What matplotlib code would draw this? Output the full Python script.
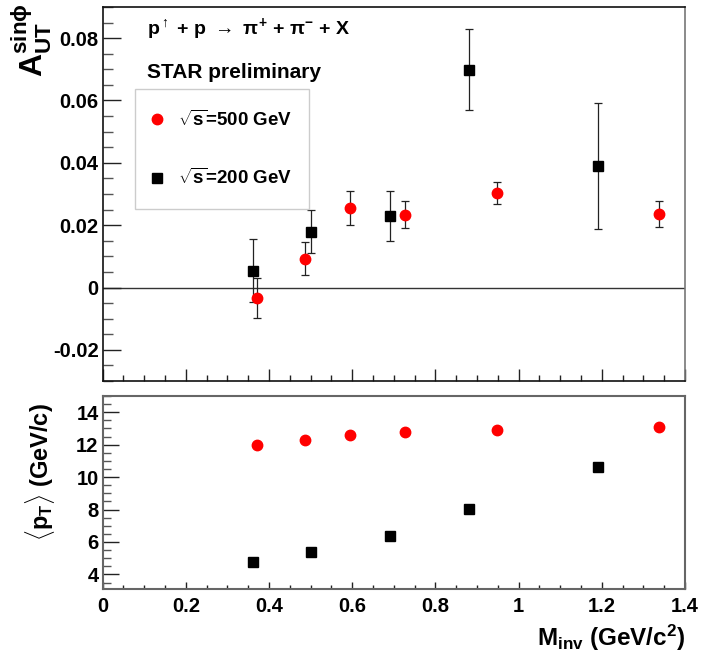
import matplotlib
matplotlib.use("Agg")
import matplotlib.pyplot as plt
from matplotlib.ticker import MultipleLocator, FuncFormatter
from matplotlib.lines import Line2D

plt.rcParams['font.family'] = ['Liberation Sans', 'DejaVu Sans']
plt.rcParams['font.weight'] = 'bold'
plt.rcParams['mathtext.fontset'] = 'custom'
plt.rcParams['mathtext.rm'] = 'Liberation Sans:bold'
plt.rcParams['mathtext.it'] = 'Liberation Sans:bold'
plt.rcParams['mathtext.bf'] = 'Liberation Sans:bold'
plt.rcParams['mathtext.sf'] = 'Liberation Sans:bold'

# ---- data ----
m500 = [0.372, 0.486, 0.595, 0.728, 0.947, 1.338]
a500 = [-0.0034, 0.0093, 0.0255, 0.0234, 0.0304, 0.0237]
e500 = [0.0065, 0.0054, 0.0054, 0.0044, 0.0036, 0.0042]
pt500 = [12.0, 12.28, 12.61, 12.77, 12.92, 13.10]

m200 = [0.361, 0.501, 0.691, 0.880, 1.190]
a200 = [0.0054, 0.0179, 0.0230, 0.0699, 0.0390]
e200 = [0.0102, 0.0069, 0.0081, 0.0130, 0.0202]
pt200 = [4.76, 5.39, 6.36, 8.02, 10.62]

label500 = r'$\sqrt{s}$=500 GeV'
label200 = r'$\sqrt{s}$=200 GeV'

RED = '#ff0000'
FS = 14.5

fig = plt.figure(figsize=(7.01, 6.60), dpi=100)
W, H = 701, 660
ax1 = fig.add_axes([102.7 / W, 1 - 381 / H, (685 - 102.7) / W, (381 - 7) / H])
ax2 = fig.add_axes([102.7 / W, 1 - 589 / H, (685 - 102.7) / W, (589 - 396) / H])

# ---- top panel ----
ax1.axhline(0, color='#333333', lw=1.0, zorder=1)
ax1.errorbar(m500, a500, yerr=e500, fmt='o', color=RED, ms=7.5, mec=RED,
             ecolor='#222222', elinewidth=0.9, capsize=3, capthick=0.9, zorder=3)
ax1.errorbar(m200, a200, yerr=e200, fmt='s', color='black', ms=7.5,
             ecolor='#222222', elinewidth=0.9, capsize=3, capthick=0.9, zorder=3)
ax1.set_xlim(0, 1.4)
ax1.set_ylim(-0.03, 0.09)
ax1.yaxis.set_major_locator(MultipleLocator(0.02))
ax1.yaxis.set_minor_locator(MultipleLocator(0.005))
ax1.xaxis.set_major_locator(MultipleLocator(0.2))
ax1.xaxis.set_minor_locator(MultipleLocator(0.05))
ax1.yaxis.set_major_formatter(FuncFormatter(lambda v, p: '0' if abs(v) < 1e-9 else f'{v:.2f}'))
ax1.tick_params(axis='x', which='both', direction='in', labelbottom=False, top=False)
ax1.tick_params(axis='x', which='major', length=8.6, width=1, color='#222222')
ax1.tick_params(axis='x', which='minor', length=4.3, width=1, color='#222222')
ax1.tick_params(axis='y', which='major', direction='in', length=13, width=1, color='#222222',
                labelsize=FS, pad=3, right=False)
ax1.tick_params(axis='y', which='minor', direction='in', length=7, width=1, color='#555555', right=False)
for s in ['left', 'bottom', 'top']:
    ax1.spines[s].set_color('#111111')
ax1.spines['right'].set_color('#777777')
for s in ax1.spines.values():
    s.set_linewidth(1.2)

ax1.text(0.076, 0.941, r'p$^{\uparrow}$ + p $\rightarrow$ $\pi^{+}$ + $\pi^{-}$ + X',
         transform=ax1.transAxes, fontsize=14, fontweight='bold', va='center', ha='left')
ax1.text(0.076, 0.826, 'STAR preliminary', transform=ax1.transAxes, fontsize=15,
         fontweight='bold', va='center', ha='left')

handles = [Line2D([], [], ls='none', marker='o', color=RED, ms=7.5),
           Line2D([], [], ls='none', marker='s', color='black', ms=7.5)]
leg = ax1.legend(handles, [label500, label200], loc='upper left',
                 bbox_to_anchor=(0.0554, 0.465, 0.2986, 0.316), mode='expand',
                 borderaxespad=0, borderpad=1.1, labelspacing=2.05, handlelength=0.1,
                 handletextpad=1.1, fancybox=False, framealpha=1,
                 edgecolor='#cccccc', prop={'size': 13.5, 'weight': 'bold'})
leg.get_frame().set_linewidth(1.0)

# ---- bottom panel ----
ax2.plot(m500, pt500, 'o', color=RED, ms=7.5, zorder=3)
ax2.plot(m200, pt200, 's', color='black', ms=7.5, zorder=3)
ax2.set_xlim(0, 1.4)
ax2.set_ylim(3.1, 15)
ax2.yaxis.set_major_locator(MultipleLocator(2))
ax2.yaxis.set_minor_locator(MultipleLocator(0.5))
ax2.xaxis.set_major_locator(MultipleLocator(0.2))
ax2.xaxis.set_minor_locator(MultipleLocator(0.05))
ax2.xaxis.set_major_formatter(FuncFormatter(lambda v, p: f'{v:g}'))
ax2.tick_params(axis='x', which='major', direction='in', length=5, width=1, color='#222222',
                labelsize=FS, pad=6, top=False)
ax2.tick_params(axis='x', which='minor', direction='in', length=2.6, width=1, color='#222222', top=False)
ax2.tick_params(axis='y', which='major', direction='in', length=11.5, width=1, color='#222222',
                labelsize=FS, pad=3, right=False)
ax2.tick_params(axis='y', which='minor', direction='in', length=5.8, width=1, color='#555555', right=False)
for s in ax2.spines.values():
    s.set_color('#666666')
    s.set_linewidth(1.5)

for lab in ax1.get_yticklabels() + ax2.get_yticklabels() + ax2.get_xticklabels():
    lab.set_fontweight('bold')

# ---- axis titles ----
fig.text(0.046, 0.995, r'A$_{UT}^{sin\phi}$', rotation=90, ha='center', va='top', fontsize=23,
         fontweight='bold')
fig.text(0.057, 0.285, r'$\langle$p$_{T}\rangle$ (GeV/c)', rotation=90, ha='center', va='center',
         fontsize=17, fontweight='bold')
fig.text(0.977, 0.021, r'M$_{inv}$ (GeV/c$^{2}$)', ha='right', va='baseline', fontsize=17.5,
         fontweight='bold')

fig.savefig('out.png', dpi=100)
